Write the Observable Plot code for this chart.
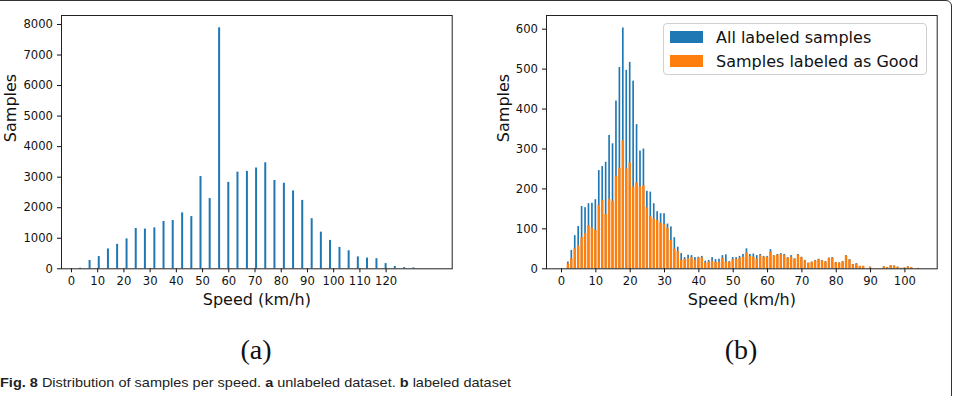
<!DOCTYPE html>
<html>
<head>
<meta charset="utf-8">
<script src="https://cdn.jsdelivr.net/npm/d3@7"></script>
<script src="https://cdn.jsdelivr.net/npm/@observablehq/plot@0.6"></script>
<style>
  html, body { margin: 0; padding: 0; background: #fff; }
  #page { position: relative; width: 960px; height: 396px; overflow: hidden; background: #fff; font-family: "DejaVu Sans", sans-serif; }
  #box { position: absolute; left: -12px; top: 0; width: 964px; height: 420px; border: 1.4px solid #333; border-radius: 6px; box-sizing: border-box; }
  .panel { position: absolute; top: 0; }
  .tag { position: absolute; font-family: "Liberation Serif", "DejaVu Serif", serif; font-size: 28px; color: #111; transform: translateX(-50%); }
  #caption { position: absolute; left: 0; top: 375px; font-family: "Liberation Sans Narrow", "Liberation Sans", sans-serif; font-size: 13.5px; color: #222; white-space: nowrap; transform-origin: 0 50%; }
  #caption b { font-weight: bold; }
  .legend { position: absolute; left: 663px; top: 23px; width: 264px; height: 52px; border: 1px solid #d0d0d0; border-radius: 4px; background: rgba(255,255,255,0.85); box-sizing: border-box; font-family: "DejaVu Sans", sans-serif; font-size: 16px; color: #111; }
  .legend .row { position: absolute; left: 6px; height: 12px; display: flex; align-items: center; white-space: nowrap; }
  .legend .sw { width: 33px; height: 12px; margin-right: 13px; flex: none; }
</style>
</head>
<body>
<div id="page">
  <div id="box"></div>
  <div id="left" class="panel" style="left:0"></div>
  <div id="right" class="panel" style="left:480px"></div>
  <div class="tag" style="left:256px; top:334px">(a)</div>
  <div class="tag" style="left:741px; top:334px">(b)</div>
  <div id="caption"><b>Fig. 8</b> Distribution of samples per speed. <b>a</b> unlabeled dataset. <b>b</b> labeled dataset</div>
  <div class="legend">
    <div class="row" style="top:7px"><div class="sw" style="background:#1f77b4"></div><span>All labeled samples</span></div>
    <div class="row" style="top:31px"><div class="sw" style="background:#ff7f0e"></div><span>Samples labeled as Good</span></div>
  </div>
</div>
<script>
// (a) unlabeled dataset: sample counts per speed bin (km/h)
const unlabeledSpeed = [0, 3.5, 7.1, 10.6, 14.1, 17.6, 21.2, 24.7, 28.2, 31.8, 35.3, 38.8, 42.4, 45.9, 49.4, 52.9, 56.5, 60.0, 63.5, 67.1, 70.6, 74.1, 77.6, 81.2, 84.7, 88.2, 91.8, 95.3, 98.8, 102.4, 105.9, 109.4, 112.9, 116.5, 120.0, 123.5, 127.1, 130.6];
const unlabeledCount = [8, 20, 270, 400, 650, 800, 980, 1320, 1300, 1340, 1550, 1580, 1830, 1710, 3020, 2300, 7890, 2830, 3165, 3190, 3300, 3470, 2890, 2800, 2550, 2240, 1640, 1200, 930, 700, 590, 390, 350, 330, 170, 75, 40, 30];

// (b) labeled dataset: all labeled samples and samples labeled as Good, per km/h
const labeledSpeed = [2, 3, 4, 5, 6, 7, 8, 9, 10, 11, 12, 13, 14, 15, 16, 17, 18, 19, 20, 21, 22, 23, 24, 25, 26, 27, 28, 29, 30, 31, 32, 33, 34, 35, 36, 37, 38, 39, 40, 41, 42, 43, 44, 45, 46, 47, 48, 49, 50, 51, 52, 53, 54, 55, 56, 57, 58, 59, 60, 61, 62, 63, 64, 65, 66, 67, 68, 69, 70, 71, 72, 73, 74, 75, 76, 77, 78, 79, 80, 81, 82, 83, 84, 85, 86, 87, 88, 89, 90, 91, 92, 93, 94, 95, 96, 97, 98, 99, 100, 101, 102, 103, 104];
const allLabeled = [17, 46, 83, 106, 156, 153, 163, 164, 173, 246, 256, 267, 334, 313, 420, 504, 603, 497, 517, 470, 361, 295, 300, 194, 192, 163, 143, 138, 138, 112, 105, 78, 54, 38, 28, 34, 33, 28, 29, 31, 19, 21, 28, 23, 24, 33, 35, 18, 28, 28, 31, 36, 50, 36, 37, 33, 36, 31, 31, 48, 33, 36, 38, 36, 28, 33, 25, 36, 29, 21, 14, 17, 21, 24, 21, 18, 27, 28, 16, 15, 18, 33, 23, 11, 13, 6, 6, 0, 4, 0, 0, 0, 5, 3, 8, 7, 4, 1, 2, 5, 3, 0, 1];
const labeledGood = [12, 25, 50, 58, 78, 88, 108, 102, 96, 159, 171, 136, 174, 169, 231, 252, 321, 250, 265, 205, 215, 205, 208, 153, 131, 125, 121, 114, 111, 102, 71, 50, 43, 21, 24, 25, 28, 21, 27, 27, 14, 17, 19, 16, 16, 26, 17, 16, 23, 24, 26, 29, 40, 31, 29, 24, 33, 29, 29, 42, 32, 34, 36, 34, 26, 29, 24, 34, 28, 20, 14, 16, 20, 23, 20, 17, 26, 27, 15, 14, 17, 32, 22, 10, 12, 6, 6, 0, 4, 0, 0, 0, 5, 3, 8, 7, 4, 1, 2, 5, 3, 0, 1];

const unlabeledTicksX = d3.range(0, 121, 10);
const unlabeledTicksY = d3.range(0, 8001, 1000);
const labeledTicksX = d3.range(0, 101, 10);
const labeledTicksY = d3.range(0, 601, 100);

const BLUE = "#1f77b4";
const ORANGE = "#ff7f0e";
const FONT = "DejaVu Sans";

const unlabeled = unlabeledSpeed.map((s, i) => ({speed: s, count: unlabeledCount[i]}));
const labeled = labeledSpeed.map((s, i) => ({speed: s, all: allLabeled[i], good: labeledGood[i]}));

function axes(ticksX, ticksY, ylabelDx) {
  return [
    Plot.axisX({ticks: ticksX, tickSize: 4, tickPadding: 4, fontSize: 11.6, tickFormat: d => String(d), label: null, stroke: "#111", fill: "#111"}),
    Plot.axisY({ticks: ticksY, tickSize: 4, tickPadding: 4.5, fontSize: 11.6, tickFormat: d => String(d), label: null, stroke: "#111", fill: "#111"}),
    Plot.text(["Speed (km/h)"], {text: d => d, frameAnchor: "bottom", dy: 31, fontSize: 16, fill: "#111", lineAnchor: "middle"}),
    Plot.text(["Samples"], {text: d => d, frameAnchor: "left", dx: ylabelDx, rotate: -90, fontSize: 16, fill: "#111"}),
    Plot.frame({stroke: "#222", strokeWidth: 1})
  ];
}

const left = Plot.plot({
  width: 480, height: 320,
  marginLeft: 61, marginRight: 28.3, marginTop: 15, marginBottom: 51.7,
  style: {fontFamily: FONT, background: "transparent"},
  x: {domain: [-3.8, 145.2]},
  y: {domain: [0, 8294]},
  marks: [
    Plot.rect(unlabeled, {x1: d => d.speed - 0.38, x2: d => d.speed + 0.38, y1: 0, y2: "count", fill: BLUE}),
    ...axes(unlabeledTicksX, unlabeledTicksY, -51)
  ]
});

const right = Plot.plot({
  width: 480, height: 320,
  marginLeft: 66, marginRight: 23.3, marginTop: 15, marginBottom: 51.7,
  style: {fontFamily: FONT, background: "transparent"},
  x: {domain: [-4.37, 109.4]},
  y: {domain: [0, 634.3]},
  marks: [
    Plot.rect(labeled, {x1: d => d.speed - 0.24, x2: d => d.speed + 0.24, y1: 0, y2: "all", fill: BLUE}),
    Plot.rect(labeled, {x1: d => d.speed - 0.36, x2: d => d.speed + 0.36, y1: 0, y2: "good", fill: ORANGE}),
    ...axes(labeledTicksX, labeledTicksY, -43)
  ]
});

document.getElementById("left").appendChild(left);
document.getElementById("right").appendChild(right);

// stretch the caption line to its set width
const caption = document.getElementById("caption");
const captionWidth = caption.getBoundingClientRect().width;
caption.style.transform = `scaleX(${511 / captionWidth})`;
</script>
</body>
</html>
